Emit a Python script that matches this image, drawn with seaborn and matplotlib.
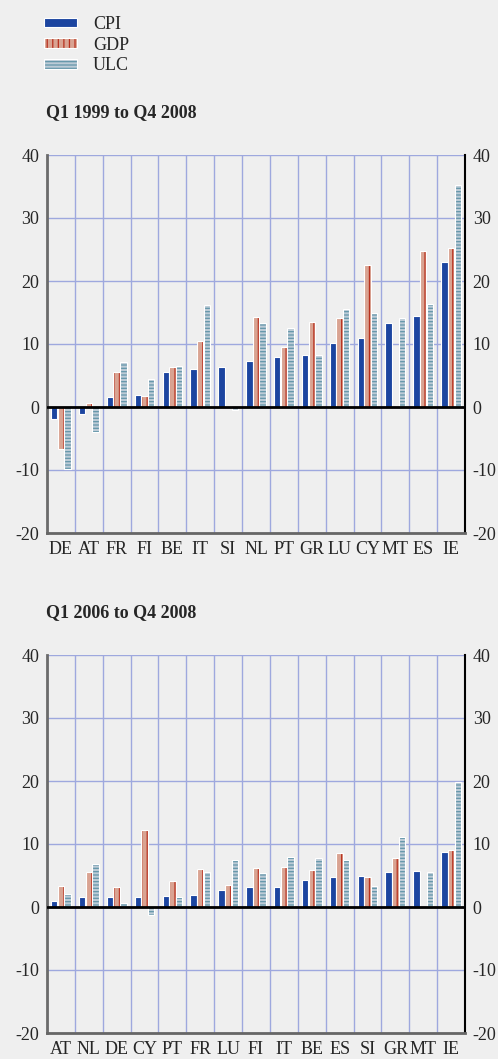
import pandas as pd
import matplotlib.pyplot as plt
import seaborn as sns
from matplotlib.colors import to_rgba

# data (percentage change)
series = ["CPI", "GDP", "ULC"]

cats1 = ["DE", "AT", "FR", "FI", "BE", "IT", "SI", "NL", "PT", "GR", "LU", "CY", "MT", "ES", "IE"]
cpi1 = [-1.9, -1.1, 1.6, 1.9, 5.5, 6.1, 6.3, 7.3, 8.0, 8.3, 10.1, 11.0, 13.4, 14.5, 23.0]
gdp1 = [-6.6, 0.6, 5.5, 1.7, 6.3, 10.4, 0.2, 14.3, 9.6, 13.5, 14.2, 22.6, 0.0, 24.7, 25.3]
ulc1 = [-9.8, -3.9, 7.2, 4.4, 6.5, 16.2, -0.5, 13.4, 12.6, 8.3, 15.6, 15.0, 14.2, 16.4, 35.2]

cats2 = ["AT", "NL", "DE", "CY", "PT", "FR", "LU", "FI", "IT", "BE", "ES", "SI", "GR", "MT", "IE"]
cpi2 = [0.9, 1.6, 1.6, 1.6, 1.7, 1.9, 2.7, 3.2, 3.2, 4.3, 4.8, 5.0, 5.5, 5.7, 8.7]
gdp2 = [3.3, 5.5, 3.1, 12.3, 4.2, 6.1, 3.5, 6.2, 6.4, 5.8, 8.6, 4.8, 7.7, 0.0, 9.1]
ulc2 = [2.0, 6.8, 0.6, -1.2, 1.6, 5.6, 7.5, 5.4, 8.0, 7.8, 7.4, 3.3, 11.1, 5.6, 19.8]

titles = ["Q1 1999 to Q4 2008", "Q1 2006 to Q4 2008"]

colors = {"CPI": "#1c45a0", "GDP": "#d9a392", "ULC": "#bccbd6"}
hatches = {"CPI": "", "GDP": "|||", "ULC": "-----"}
hatch_colors = {"CPI": "#1c45a0", "GDP": "#b8301e", "ULC": "#6496aa"}

bg = "#efefef"
grid_col = "#9ea8de"

sns.set_style("white")
plt.rcParams["font.family"] = ["Liberation Serif", "DejaVu Serif"]
plt.rcParams["hatch.linewidth"] = 0.9


def make_df(cats, cpi, gdp, ulc):
    rows = []
    for name, vals in zip(series, [cpi, gdp, ulc]):
        for c, v in zip(cats, vals):
            rows.append({"country": c, "series": name, "value": v})
    return pd.DataFrame(rows)


def set_hatch_color(patch, col):
    if hasattr(patch, "set_hatchcolor"):
        patch.set_hatchcolor(col)
    else:
        patch._hatch_color = to_rgba(col)


fig = plt.figure(figsize=(4.98, 10.59), dpi=100, facecolor=bg)
W, H = 498, 1059
ax_left, ax_right = 47 / W, 465 / W
panels = [(155, 533, 113), (655, 1033, 613)]

data = [(cats1, cpi1, gdp1, ulc1), (cats2, cpi2, gdp2, ulc2)]

handles = None
for i, ((cats, cpi, gdp, ulc), (top, bot, ty)) in enumerate(zip(data, panels)):
    ax = fig.add_axes([ax_left, 1 - bot / H, ax_right - ax_left, (bot - top) / H])
    ax.set_facecolor(bg)
    df = make_df(cats, cpi, gdp, ulc)
    sns.barplot(data=df, x="country", y="value", hue="series", order=cats,
                hue_order=series, palette=colors, width=0.72, gap=0.04,
                saturation=1, ax=ax, legend=False, zorder=3)
    for cont, name in zip(ax.containers, series):
        for p in cont.patches:
            p.set_edgecolor("white")
            p.set_linewidth(0.8)
            p.set_hatch(hatches[name])
            set_hatch_color(p, hatch_colors[name])
    if handles is None:
        handles = [cont.patches[0] for cont in ax.containers]

    ax.set_ylim(-20, 40)
    ax.set_xlim(-0.5, len(cats) - 0.5)
    ax.set_yticks([-20, -10, 0, 10, 20, 30, 40])
    ax.set_yticklabels(["-20", "-10", "0", "10", "20", "30", "40"])
    ax.set_xticks(range(len(cats)))
    ax.set_xticklabels(cats)
    ax.set_xticks([k - 0.5 for k in range(len(cats) + 1)], minor=True)
    ax.set_xlabel("")
    ax.set_ylabel("")

    ax.grid(True, axis="y", which="major", color=grid_col, lw=1, zorder=0)
    ax.grid(True, axis="x", which="minor", color=grid_col, lw=1, zorder=0)
    ax.grid(False, axis="x", which="major")
    ax.set_axisbelow(True)
    ax.axhline(0, color="black", lw=2, zorder=4)

    ax.tick_params(axis="y", which="both", length=0, labelsize=13,
                   labelleft=True, labelright=True, pad=5.5)
    ax.tick_params(axis="x", which="major", length=0, labelsize=13, pad=6)
    ax.tick_params(axis="x", which="minor", length=5, width=1.6,
                   color="black", direction="inout")

    ax.spines["top"].set_visible(False)
    ax.spines["left"].set_color("#6b6b6b")
    ax.spines["left"].set_linewidth(2)
    ax.spines["right"].set_color("black")
    ax.spines["right"].set_linewidth(1.5)
    ax.spines["bottom"].set_color("#666666")
    ax.spines["bottom"].set_linewidth(2)

    fig.text(46 / W, 1 - ty / H, titles[i], fontsize=13, fontweight="bold",
             ha="left", va="center")

leg = fig.legend(handles, series, loc="upper left",
                 bbox_to_anchor=(44 / W, 1 - 16 / H), frameon=False,
                 fontsize=13, handlelength=1.85, handleheight=0.45,
                 handletextpad=0.85, labelspacing=0.2, borderpad=0,
                 borderaxespad=0)

fig.savefig("out.png", dpi=100, facecolor=bg)
